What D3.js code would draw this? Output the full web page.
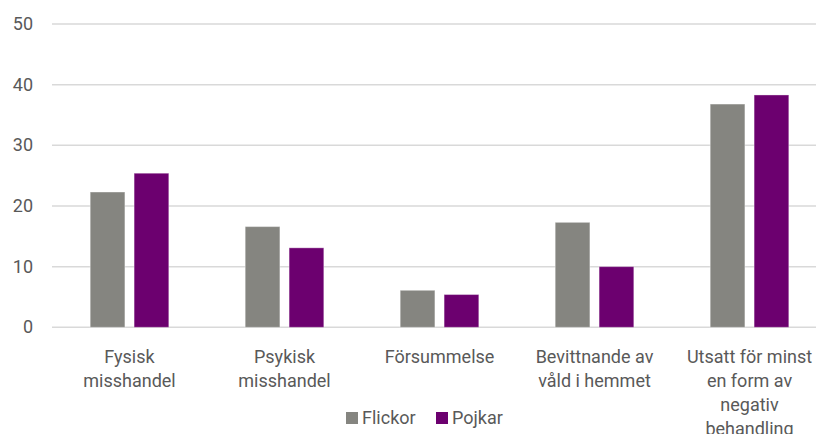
<!DOCTYPE html>
<html>
<head>
<meta charset="utf-8">
<script src="https://cdn.jsdelivr.net/npm/d3@7/dist/d3.min.js"></script>
<style>
  html, body { margin: 0; padding: 0; background: #fff; }
  svg { display: block; font-family: Roboto, "Noto Sans", sans-serif; }
</style>
</head>
<body>
<svg id="chart" width="816" height="434"></svg>
<script>
// Andel (%) per typ av utsatthet, flickor och pojkar
const categories = [
  "Fysisk misshandel",
  "Psykisk misshandel",
  "Försummelse",
  "Bevittnande av våld i hemmet",
  "Utsatt för minst en form av negativ behandling"
];
const categoryLines = [
  ["Fysisk", "misshandel"],
  ["Psykisk", "misshandel"],
  ["Försummelse"],
  ["Bevittnande av", "våld i hemmet"],
  ["Utsatt för minst", "en form av", "negativ", "behandling"]
];
const seriesNames = ["Flickor", "Pojkar"];
const flickor = [22.3, 16.6, 6.1, 17.3, 36.8];
const pojkar  = [25.4, 13.1, 5.4, 10.0, 38.3];
const yTicks = [0, 10, 20, 30, 40, 50];
const colors = ["#858580", "#6c006f"];

const svg = d3.select("#chart");
const textColor = "#595959";

const x0 = d3.scaleBand().domain(categories).range([52, 827]).paddingInner(0).paddingOuter(0);
const x1 = d3.scaleBand().domain(seriesNames).range([38.2, 116.8]).paddingInner(0.21).paddingOuter(0);
const y = d3.scaleLinear().domain([0, 50]).range([327.3, 24]);

// Gridlines
svg.append("g").selectAll("line").data(yTicks).join("line")
  .attr("x1", 52).attr("x2", 816)
  .attr("y1", d => y(d)).attr("y2", d => y(d))
  .attr("stroke", "#d9d9d9").attr("stroke-width", 1.5);

// Y tick labels
svg.append("g").selectAll("text").data(yTicks).join("text")
  .attr("x", 33).attr("y", d => y(d) + 6)
  .attr("text-anchor", "end")
  .attr("font-size", 18).attr("fill", textColor)
  .text(d => d);

// Bars
const rows = categories.map((c, i) => ({ cat: c, values: [flickor[i], pojkar[i]] }));
const groups = svg.append("g").selectAll("g").data(rows).join("g")
  .attr("transform", d => `translate(${x0(d.cat)},0)`);
groups.selectAll("rect")
  .data(d => d.values.map((v, j) => ({ s: seriesNames[j], v, j })))
  .join("rect")
  .attr("x", d => x1(d.s))
  .attr("width", x1.bandwidth())
  .attr("y", d => y(d.v))
  .attr("height", d => y(0) - y(d.v))
  .attr("fill", d => colors[d.j])
  .attr("stroke", "#ffffff").attr("stroke-opacity", 0.35).attr("stroke-width", 1);

// Category labels
const labels = svg.append("g").selectAll("text").data(categories).join("text")
  .attr("text-anchor", "middle")
  .attr("font-size", 18).attr("fill", textColor)
  .attr("transform", d => `translate(${x0(d) + x0.bandwidth() / 2},363)`);
labels.selectAll("tspan")
  .data((d, i) => categoryLines[i])
  .join("tspan")
  .attr("x", 0)
  .attr("y", (d, i) => i * 24)
  .text(d => d);

// Legend
const legend = svg.append("g");
const legendX = [346, 436];
seriesNames.forEach((s, i) => {
  legend.append("rect")
    .attr("x", legendX[i]).attr("y", 412)
    .attr("width", 12).attr("height", 12)
    .attr("fill", colors[i]);
  legend.append("text")
    .attr("x", legendX[i] + 16).attr("y", 423.5)
    .attr("font-size", 18).attr("fill", textColor)
    .text(s);
});
</script>
</body>
</html>
